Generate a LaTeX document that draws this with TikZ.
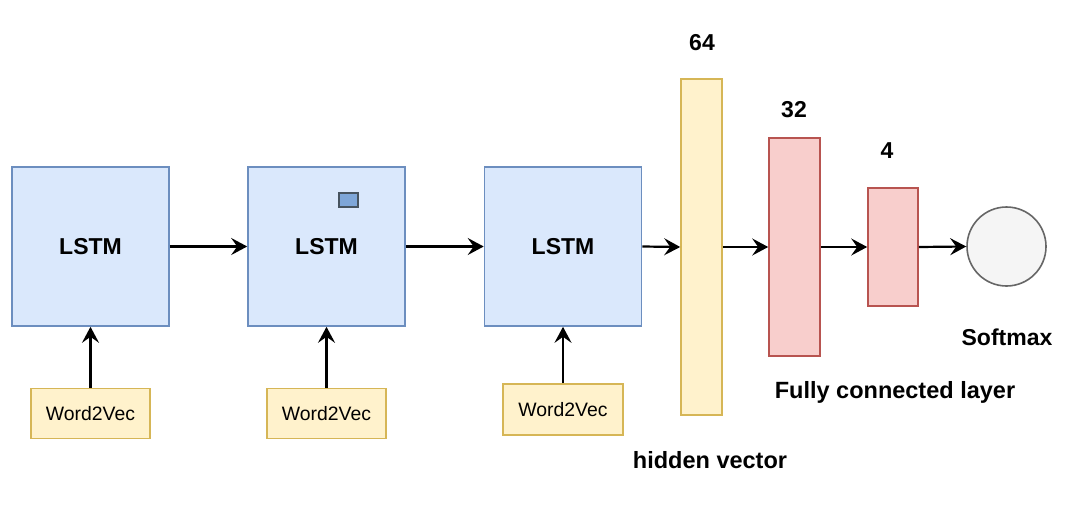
\documentclass[tikz,border=0pt]{standalone}
\usepackage{fontspec}
\setmainfont{Liberation Sans}
\usetikzlibrary{arrows.meta}
\definecolor{bfill}{HTML}{DAE8FC}
\definecolor{bdraw}{HTML}{6C8EBF}
\definecolor{yfill}{HTML}{FFF2CC}
\definecolor{ydraw}{HTML}{D6B656}
\definecolor{rfill}{HTML}{F8CECC}
\definecolor{rdraw}{HTML}{B85450}
\definecolor{gfill}{HTML}{F5F5F5}
\definecolor{gdraw}{HTML}{666666}
\definecolor{sqfill}{HTML}{7EA6D8}
\definecolor{sqdraw}{HTML}{46535F}
\tikzset{
  lstmbox/.style={draw=bdraw, fill=bfill, line width=1.6pt, minimum width=157pt, minimum height=159pt, inner sep=0pt, font=\fontsize{23}{27}\selectfont\bfseries},
  w2v/.style={draw=ydraw, fill=yfill, line width=1.6pt, minimum width=119pt, minimum height=50pt, inner sep=0pt, font=\fontsize{19.4}{23}\selectfont},
  ybar/.style={draw=ydraw, fill=yfill, line width=1.6pt, inner sep=0pt},
  rbar/.style={draw=rdraw, fill=rfill, line width=1.6pt, inner sep=0pt},
  lbl/.style={font=\fontsize{23}{27}\selectfont\bfseries, inner sep=0pt},
  biglbl/.style={font=\fontsize{23.5}{27}\selectfont\bfseries, inner sep=0pt},
  conn/.style={line width=2.2pt, -{Stealth[length=16pt, width=17pt, inset=6pt]}},
}
\begin{document}
\begin{tikzpicture}[x=1pt, y=-1pt]
\useasboundingbox (0,0) rectangle (1083,516);
% LSTM cells
\node[lstmbox] (l1) at (90.5,246.5) {LSTM};
\node[lstmbox] (l2) at (326.5,246.5) {LSTM};
\node[lstmbox] (l3) at (563,246.5) {LSTM};
\node[draw=sqdraw, fill=sqfill, line width=2.2pt, minimum width=19pt, minimum height=14pt, inner sep=0pt] (sq) at (348.5,200) {};
% Word2Vec inputs
\node[w2v] (w1) at (90.5,413.5) {Word2Vec};
\node[w2v] (w2) at (326.5,413.5) {Word2Vec};
\node[w2v, minimum width=120pt, minimum height=51pt] (w3) at (563,409.5) {Word2Vec};
% hidden vector and FC layers
\node[ybar, minimum width=41pt, minimum height=336pt] (h) at (701.5,247) {};
\node[rbar, minimum width=51pt, minimum height=218pt] (f1) at (794.5,247) {};
\node[rbar, minimum width=50pt, minimum height=118pt] (f2) at (893,247) {};
\node[circle, draw=gdraw, fill=gfill, line width=1.6pt, minimum size=79pt, inner sep=0pt] (sm) at (1006.5,246.5) {};
% labels
\node[lbl] (t64) at (702,43) {64};
\node[lbl] (t32) at (794,110) {32};
\node[lbl] (t4) at (887,151) {4};
\node[lbl] (tsm) at (1007,337) {Softmax};
\node[biglbl] (tfc) at (895,392) {Fully connected layer};
\node[biglbl] (thv) at (710,460) {hidden vector};
% connectors
\draw[conn] (l1.east) -- (l2.west);
\draw[conn] (l2.east) -- (l3.west);
\draw[conn] (l3.east) -- (h.west);
\draw[conn] (h.east) -- (f1.west);
\draw[conn] (f1.east) -- (f2.west);
\draw[conn] (f2.east) -- (sm.west);
\draw[conn] (w1.north) -- (l1.south);
\draw[conn] (w2.north) -- (l2.south);
\draw[conn] (w3.north) -- (l3.south);
\end{tikzpicture}
\end{document}
